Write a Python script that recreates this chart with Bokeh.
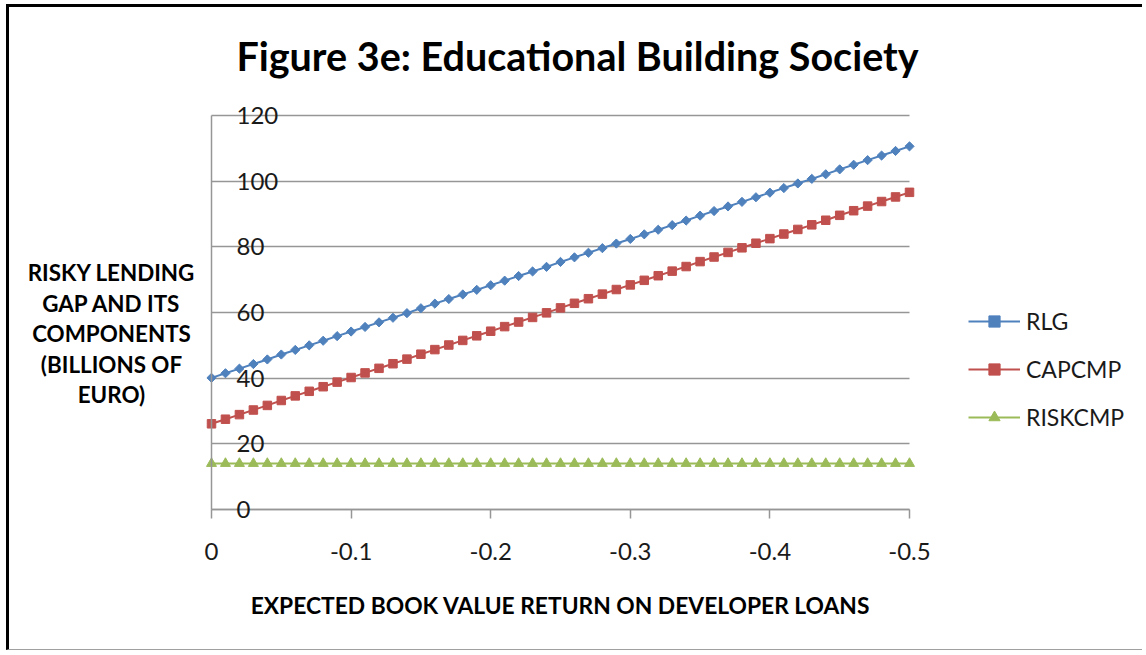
import math
from bokeh.plotting import figure
from bokeh.models import Range1d, Label, Legend, LegendItem, FixedTicker
from bokeh.embed import file_html
from bokeh.resources import INLINE

# ---------------- data ----------------
x_vals = [0.0, -0.01, -0.02, -0.03, -0.04, -0.05, -0.06, -0.07, -0.08, -0.09,
          -0.1, -0.11, -0.12, -0.13, -0.14, -0.15, -0.16, -0.17, -0.18, -0.19,
          -0.2, -0.21, -0.22, -0.23, -0.24, -0.25, -0.26, -0.27, -0.28, -0.29,
          -0.3, -0.31, -0.32, -0.33, -0.34, -0.35, -0.36, -0.37, -0.38, -0.39,
          -0.4, -0.41, -0.42, -0.43, -0.44, -0.45, -0.46, -0.47, -0.48, -0.49,
          -0.5]

rlg = [40.1, 41.5, 42.9, 44.3, 45.7, 47.2, 48.6, 50.0, 51.4, 52.8,
       54.2, 55.6, 57.0, 58.4, 59.8, 61.3, 62.7, 64.1, 65.5, 66.9,
       68.3, 69.7, 71.1, 72.5, 73.9, 75.4, 76.8, 78.2, 79.6, 81.0,
       82.4, 83.8, 85.2, 86.6, 88.0, 89.5, 90.9, 92.3, 93.7, 95.1,
       96.5, 97.9, 99.3, 100.7, 102.1, 103.6, 105.0, 106.4, 107.8, 109.2,
       110.6]

capcmp = [26.1, 27.5, 28.9, 30.3, 31.7, 33.2, 34.6, 36.0, 37.4, 38.8,
          40.2, 41.6, 43.0, 44.4, 45.8, 47.3, 48.7, 50.1, 51.5, 52.9,
          54.3, 55.7, 57.1, 58.5, 59.9, 61.4, 62.8, 64.2, 65.6, 67.0,
          68.4, 69.8, 71.2, 72.6, 74.0, 75.5, 76.9, 78.3, 79.7, 81.1,
          82.5, 83.9, 85.3, 86.7, 88.1, 89.6, 91.0, 92.4, 93.8, 95.2,
          96.6]

riskcmp = [14.0, 14.0, 14.0, 14.0, 14.0, 14.0, 14.0, 14.0, 14.0, 14.0,
           14.0, 14.0, 14.0, 14.0, 14.0, 14.0, 14.0, 14.0, 14.0, 14.0,
           14.0, 14.0, 14.0, 14.0, 14.0, 14.0, 14.0, 14.0, 14.0, 14.0,
           14.0, 14.0, 14.0, 14.0, 14.0, 14.0, 14.0, 14.0, 14.0, 14.0,
           14.0, 14.0, 14.0, 14.0, 14.0, 14.0, 14.0, 14.0, 14.0, 14.0,
           14.0]

series_names = ["RLG", "CAPCMP", "RISKCMP"]
y_ticks = [0, 20, 40, 60, 80, 100, 120]
y_tick_labels = ["0", "20", "40", "60", "80", "100", "120"]
x_ticks = [0, -0.1, -0.2, -0.3, -0.4, -0.5]
x_tick_labels = ["0", "-0.1", "-0.2", "-0.3", "-0.4", "-0.5"]

title_text = "Figure 3e: Educational Building Society"
y_title_lines = ["RISKY LENDING", "GAP AND ITS", "COMPONENTS", "(BILLIONS OF", "EURO)"]
x_title_text = "EXPECTED BOOK VALUE RETURN ON DEVELOPER LOANS"

# ---------------- layout (pixels) ----------------
W, H = 1136, 646                 # canvas size
PLOT_L, PLOT_W = 202, 698        # data area (x = 0 .. -0.5) inside canvas
PLOT_T, PLOT_H = 108, 394        # data area (y = 120 .. 0) inside canvas
X0, X1 = 0.0, -0.5
Y0, Y1 = 0.0, 120.0
xs = (X1 - X0) / PLOT_W
ys = (Y1 - Y0) / PLOT_H
x_range = Range1d(X0 - PLOT_L * xs, X1 + (W - PLOT_L - PLOT_W) * xs)
y_range = Range1d(Y0 - (H - PLOT_T - PLOT_H) * ys, Y1 + PLOT_T * ys)

FONT = "Lato"
GRID = "#969696"
TXT = "#1a1a1a"
COLORS = ["#4F81BD", "#C0504D", "#9BBB59"]

p = figure(width=W, height=H, output_backend="svg", toolbar_location=None,
           x_range=x_range, y_range=y_range, y_axis_location="right",
           min_border=0)
p.styles = {"margin-left": "6px", "margin-top": "4px",
            "border-left": "3px solid black", "border-top": "3px solid black",
            "border-bottom": "1px solid #a0a0a0"}
p.outline_line_color = None
p.background_fill_color = "white"
p.border_fill_color = "white"

# x axis, pinned at y = 0
p.xaxis.fixed_location = 0
p.xaxis.bounds = (X1, X0)
p.xaxis.ticker = FixedTicker(ticks=x_ticks)
p.xaxis.major_label_overrides = {t: l for t, l in zip(x_ticks, x_tick_labels)}
p.xaxis.axis_line_color = GRID
p.xaxis.axis_line_width = 1.5
p.xaxis.major_tick_line_color = GRID
p.xaxis.major_tick_line_width = 1.5
p.xaxis.major_tick_out = 9
p.xaxis.major_tick_in = 0
p.xaxis.minor_tick_line_color = None
p.xaxis.major_label_text_font = FONT
p.xaxis.major_label_text_font_size = "24px"
p.xaxis.major_label_text_color = TXT
p.xaxis.major_label_standoff = 24

# y axis, pinned at x = 0, labels drawn to its right (as in the reference)
p.yaxis.fixed_location = 0
p.yaxis.bounds = (Y0, Y1)
p.yaxis.ticker = FixedTicker(ticks=y_ticks)
p.yaxis.major_label_overrides = {t: l for t, l in zip(y_ticks, y_tick_labels)}
p.yaxis.axis_line_color = GRID
p.yaxis.axis_line_width = 1.5
p.yaxis.major_tick_line_color = None
p.yaxis.minor_tick_line_color = None
p.yaxis.major_tick_out = 0
p.yaxis.major_tick_in = 0
p.yaxis.major_label_standoff = 25
p.yaxis.major_label_text_font = FONT
p.yaxis.major_label_text_font_size = "24px"
p.yaxis.major_label_text_color = TXT

p.xgrid.grid_line_color = None
p.ygrid.ticker = FixedTicker(ticks=y_ticks)
p.ygrid.bounds = (Y0, Y1)
p.ygrid.cross_bounds = (X1, X0)
p.ygrid.grid_line_color = GRID
p.ygrid.grid_line_width = 1.5

# series
l1 = p.line(x_vals, rlg, line_color=COLORS[0], line_width=2)
s1 = p.scatter(x_vals, rlg, marker="square", angle=math.pi / 4, size=6.5,
               fill_color=COLORS[0], line_color=COLORS[0])
l2 = p.line(x_vals, capcmp, line_color=COLORS[1], line_width=2)
s2 = p.scatter(x_vals, capcmp, marker="square", size=8.5,
               fill_color=COLORS[1], line_color=COLORS[1])
l3 = p.line(x_vals, riskcmp, line_color=COLORS[2], line_width=2)
s3 = p.scatter(x_vals, riskcmp, marker="triangle", size=10,
               fill_color=COLORS[2], line_color=COLORS[2])

# legend (screen offsets from canvas bottom-left)
legend = Legend(items=[LegendItem(label=series_names[0], renderers=[l1, s1]),
                       LegendItem(label=series_names[1], renderers=[l2, s2]),
                       LegendItem(label=series_names[2], renderers=[l3, s3])],
                location=(959, 222))
legend.border_line_color = None
legend.background_fill_alpha = 0
legend.label_text_font = FONT
legend.label_text_font_size = "23px"
legend.label_text_color = TXT
legend.glyph_width = 52
legend.glyph_height = 28
legend.label_height = 28
legend.spacing = 20
legend.padding = 0
legend.margin = 0
legend.label_standoff = 6
p.add_layout(legend)

# title
p.add_layout(Label(x=568, y=598, x_units="screen", y_units="screen", text=title_text,
                   text_align="center", text_baseline="alphabetic",
                   text_font=FONT, text_font_style="bold", text_font_size="39.5px",
                   text_color="black"))

# y-axis title
y_label_y = [381, 350, 320, 289, 259]
for line, yb in zip(y_title_lines, y_label_y):
    p.add_layout(Label(x=102, y=yb, x_units="screen", y_units="screen", text=line,
                       text_align="center", text_baseline="alphabetic",
                       text_font=FONT, text_font_style="bold", text_font_size="22.4px",
                       text_color="black"))

# x-axis title
p.add_layout(Label(x=551, y=49, x_units="screen", y_units="screen", text=x_title_text,
                   text_align="center", text_baseline="alphabetic",
                   text_font=FONT, text_font_style="bold", text_font_size="22.8px",
                   text_color="black"))

open("out.html", "w").write(file_html(p, INLINE))
